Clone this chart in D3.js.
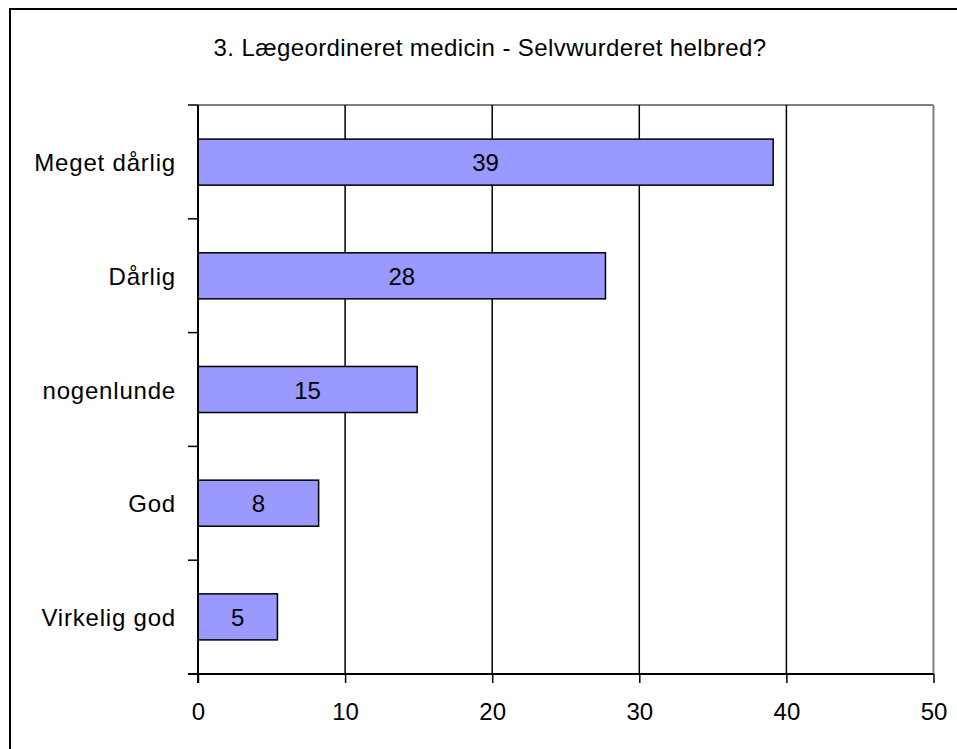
<!DOCTYPE html>
<html>
<head>
<meta charset="utf-8">
<script src="https://cdn.jsdelivr.net/npm/d3@7"></script>
<style>
  body { margin: 0; background: #fff; }
  svg text { font-family: "Liberation Sans", Arial, sans-serif; fill: #000; }
</style>
</head>
<body>
<script>
var categories = ["Meget dårlig", "Dårlig", "nogenlunde", "God", "Virkelig god"];
var values = [39.1, 27.7, 14.9, 8.2, 5.4];
var xTicks = [0, 10, 20, 30, 40, 50];
var title = "3. Lægeordineret medicin - Selvwurderet helbred?";

var width = 957, height = 749;
var plotL = 198, plotR = 933.5, plotT = 105, plotB = 674;

var svg = d3.select("body").append("svg").attr("width", width).attr("height", height);

// outer frame
svg.append("rect").attr("x", 10).attr("y", 9).attr("width", 960).attr("height", 760)
  .attr("fill", "none").attr("stroke", "#000").attr("stroke-width", 2);

svg.append("text").attr("x", 490).attr("y", 56).attr("text-anchor", "middle")
  .style("font-size", "24px").style("letter-spacing", "0.4px").text(title);

var x = d3.scaleLinear().domain([0, 50]).range([plotL, plotR]);
var y = d3.scaleBand().domain(categories).range([plotT, plotB]).paddingInner(0.595).paddingOuter(0.3);

// plot border (top / right grey)
svg.append("line").attr("x1", plotL).attr("x2", plotR).attr("y1", plotT).attr("y2", plotT)
  .attr("stroke", "#808080").attr("stroke-width", 2);
svg.append("line").attr("x1", plotR).attr("x2", plotR).attr("y1", plotT).attr("y2", plotB)
  .attr("stroke", "#808080").attr("stroke-width", 2);

// gridlines
svg.selectAll(".grid").data(xTicks.slice(1, -1)).enter().append("line")
  .attr("x1", function(d) { return x(d); }).attr("x2", function(d) { return x(d); })
  .attr("y1", plotT).attr("y2", plotB)
  .attr("stroke", "#000").attr("stroke-width", 1.5);

// bars
svg.selectAll(".bar").data(values).enter().append("rect")
  .attr("x", x(0))
  .attr("y", function(d, i) { return y(categories[i]); })
  .attr("width", function(d) { return x(d) - x(0); })
  .attr("height", y.bandwidth())
  .attr("fill", "#9999ff").attr("stroke", "#000").attr("stroke-width", 1.5);

svg.selectAll(".val").data(values).enter().append("text")
  .attr("x", function(d) { return (x(0) + x(d)) / 2; })
  .attr("y", function(d, i) { return y(categories[i]) + y.bandwidth() / 2 + 9; })
  .attr("text-anchor", "middle").style("font-size", "24px")
  .text(function(d) { return Math.round(d); });

// x axis
var xAxis = svg.append("g").attr("transform", "translate(0," + plotB + ")")
  .call(d3.axisBottom(x).tickValues(xTicks).tickSize(9).tickPadding(20).tickSizeOuter(0));
xAxis.select(".domain").attr("stroke", "#000").attr("stroke-width", 2)
  .attr("d", "M" + (plotL - 10) + ",0H" + plotR);
xAxis.selectAll(".tick line").attr("stroke-width", 1.5);
xAxis.selectAll("text").style("font-size", "24px").attr("font-family", null);

// y axis with ticks at band boundaries
var yb = [plotT].concat(categories.map(function(c, i) { return plotT + (plotB - plotT) * (i + 1) / categories.length; }));
svg.append("line").attr("x1", plotL).attr("x2", plotL).attr("y1", plotT).attr("y2", plotB + 9)
  .attr("stroke", "#000").attr("stroke-width", 2);
svg.selectAll(".ytick").data(yb).enter().append("line")
  .attr("x1", plotL - 10).attr("x2", plotL).attr("y1", function(d) { return d; }).attr("y2", function(d) { return d; })
  .attr("stroke", "#000").attr("stroke-width", 1.5);
svg.selectAll(".ylab").data(categories).enter().append("text")
  .attr("x", 176).attr("y", function(d) { return y(d) + y.bandwidth() / 2 + 9; })
  .attr("text-anchor", "end").style("font-size", "24px").style("letter-spacing", "0.8px")
  .text(function(d) { return d; });
</script>
</body>
</html>
